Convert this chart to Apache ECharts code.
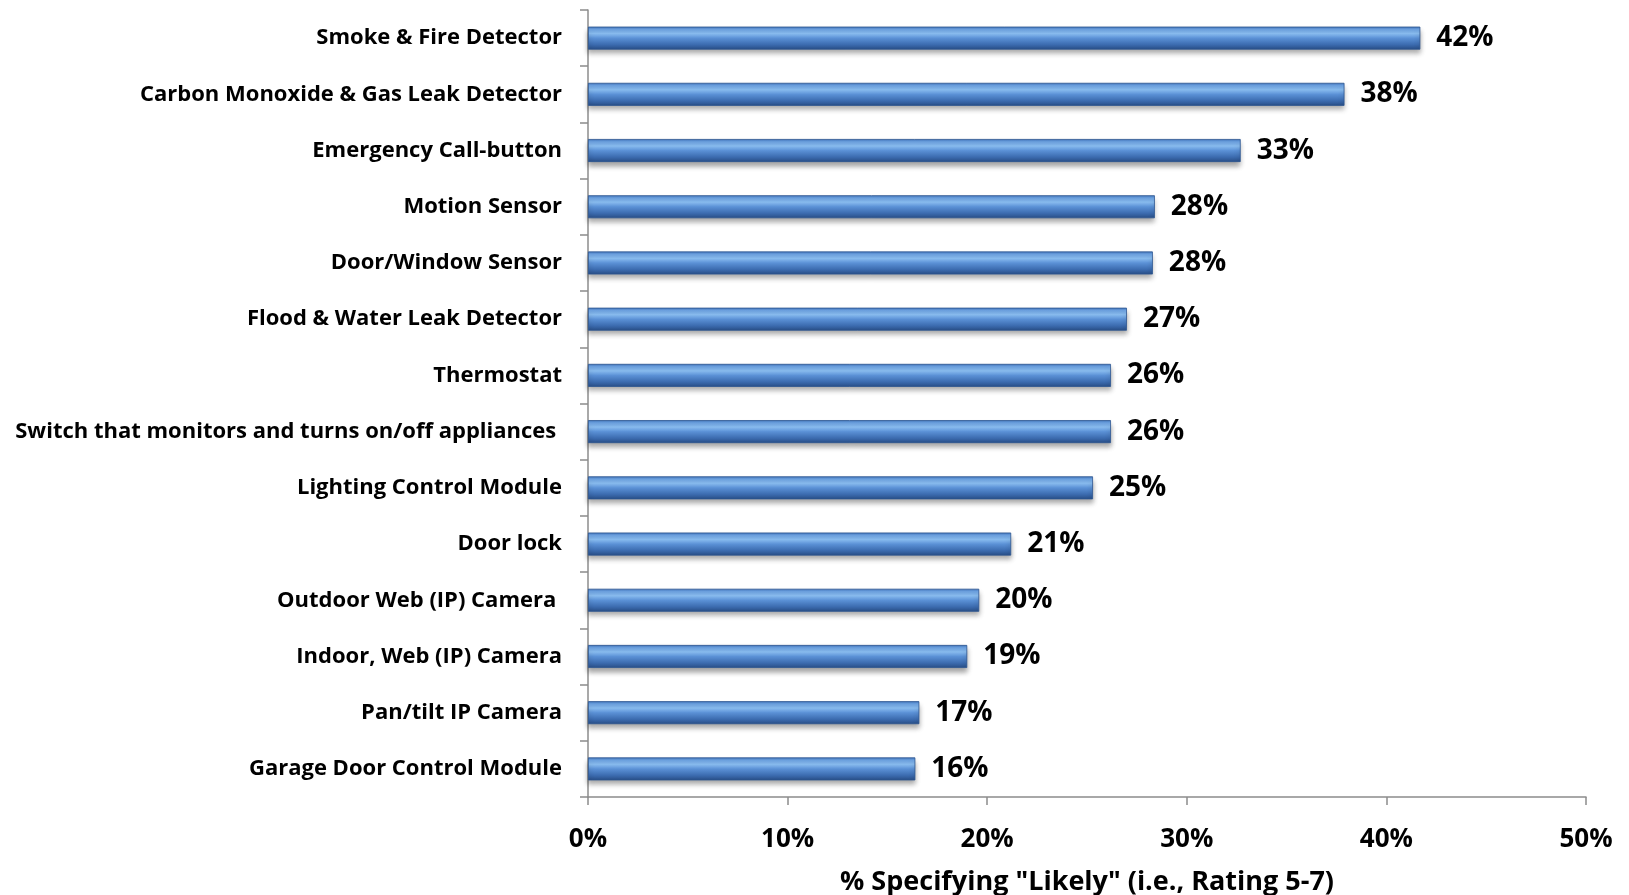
<!DOCTYPE html>
<html>
<head>
<meta charset="utf-8">
<script src="https://cdn.jsdelivr.net/npm/echarts@6/dist/echarts.min.js"></script>
<style>
  html, body { margin: 0; padding: 0; background: #fff; }
  #chart { width: 1629px; height: 895px; }
</style>
</head>
<body>
<div id="chart"></div>
<script>
// Devices, listed top to bottom
const categories = [
  'Smoke & Fire Detector',
  'Carbon Monoxide & Gas Leak Detector',
  'Emergency Call-button',
  'Motion Sensor',
  'Door/Window Sensor',
  'Flood & Water Leak Detector',
  'Thermostat',
  'Switch that monitors and turns on/off appliances ',
  'Lighting Control Module',
  'Door lock',
  'Outdoor Web (IP) Camera ',
  'Indoor, Web (IP) Camera',
  'Pan/tilt IP Camera',
  'Garage Door Control Module'
];
// Share of respondents rating 5-7 (percent)
const likelyPct = [41.7, 37.9, 32.7, 28.4, 28.3, 27.0, 26.2, 26.2, 25.3, 21.2, 19.6, 19.0, 16.6, 16.4];
const xTicks = [0, 10, 20, 30, 40, 50];
const xTitle = '% Specifying "Likely" (i.e., Rating 5-7)';

const FONT = '"Open Sans", Lato, sans-serif';
const chart = echarts.init(document.getElementById('chart'));

chart.setOption({
  animation: false,
  backgroundColor: '#ffffff',
  grid: { left: 588, right: 43, top: 10, bottom: 98, containLabel: false, outerBoundsMode: 'none' },
  xAxis: {
    type: 'value',
    min: xTicks[0],
    max: xTicks[xTicks.length - 1],
    interval: 10,
    name: xTitle,
    nameLocation: 'middle',
    nameGap: 72,
    nameTextStyle: { fontFamily: FONT, fontWeight: 'bold', fontSize: 27, color: '#000' },
    axisLine: { show: true, lineStyle: { color: '#8c8c8c', width: 1.5 } },
    axisTick: { show: true, length: 8, lineStyle: { color: '#8c8c8c', width: 1.5 } },
    axisLabel: {
      formatter: v => v + '%',
      fontFamily: FONT, fontWeight: 'bold', fontSize: 26, color: '#000', margin: 30
    },
    splitLine: { show: false }
  },
  yAxis: {
    type: 'category',
    data: categories,
    inverse: true,
    axisLine: { show: true, lineStyle: { color: '#8c8c8c', width: 1.5 } },
    axisTick: { show: true, length: 8, lineStyle: { color: '#8c8c8c', width: 1.5 } },
    axisLabel: {
      fontFamily: FONT, fontWeight: 'bold', fontSize: 22, color: '#000', margin: 26
    }
  },
  series: [{
    type: 'bar',
    data: likelyPct,
    barWidth: 23,
    itemStyle: {
      color: {
        type: 'linear', x: 0, y: 0, x2: 0, y2: 1,
        colorStops: [
          { offset: 0, color: '#3f72b8' },
          { offset: 0.12, color: '#6fa5e6' },
          { offset: 0.3, color: '#8cc0f4' },
          { offset: 0.5, color: '#5b91d6' },
          { offset: 0.78, color: '#3c6cb0' },
          { offset: 1, color: '#284d85' }
        ]
      },
      borderColor: '#2c5590',
      borderWidth: 0.8,
      shadowColor: 'rgba(0,0,0,0.35)',
      shadowBlur: 5,
      shadowOffsetY: 4
    },
    label: {
      show: true,
      position: 'right',
      distance: 16,
      formatter: p => Math.round(p.value) + '%',
      fontFamily: FONT, fontWeight: 'bold', fontSize: 28, color: '#000'
    }
  }]
});
</script>
</body>
</html>
